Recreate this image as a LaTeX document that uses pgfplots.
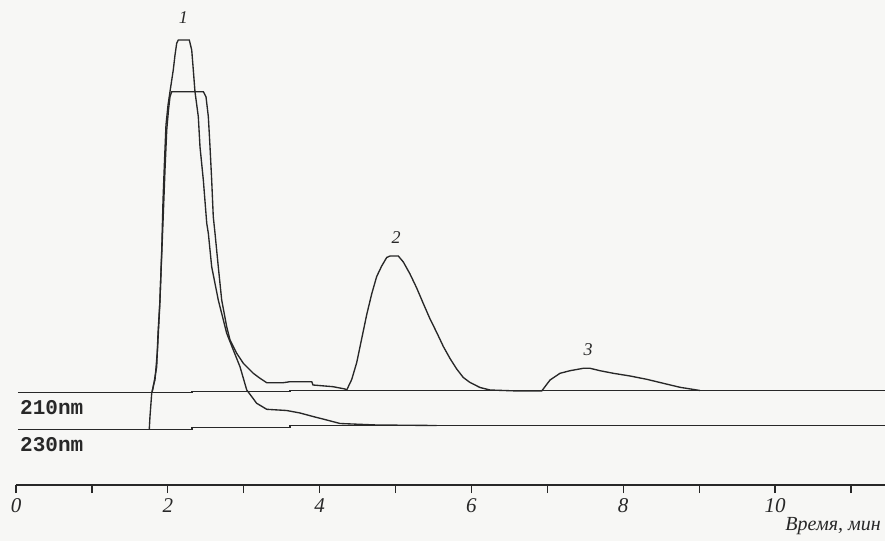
\documentclass[border=0pt]{standalone}
\usepackage{pgfplots}
\pgfplotsset{compat=1.18}
\usepackage{fontspec}
\setmainfont{Liberation Serif}
\setmonofont{Liberation Mono}
\definecolor{bg}{RGB}{247,247,245}
\definecolor{ink}{RGB}{40,40,40}
\begin{document}
\begin{tikzpicture}
\useasboundingbox (0,0) rectangle (885pt,541pt);
\fill[bg] (0,0) rectangle (885pt,541pt);
\begin{axis}[
  at={(16pt,56pt)}, anchor=south west,
  scale only axis, width=869pt, height=485pt,
  xmin=0, xmax=11.449, ymin=0, ymax=485,
  clip=false,
  axis x line=bottom, axis y line=none,
  x axis line style={-, ink, line width=1.4pt},
  xtick={0,1,2,3,4,5,6,7,8,9,10,11},
  xticklabels={\textit{0},,\textit{2},,\textit{4},,\textit{6},,\textit{8},,\textit{10},},
  xtick pos=bottom, tick align=outside,
  major tick length=8pt,
  tick style={ink, line width=1.2pt},
  xticklabel style={font=\fontsize{21}{21}\selectfont, text=ink, anchor=north, yshift=-2pt},
  ytick=\empty,
  tr/.style={ink, line width=1.35pt, mark=none},
]
% baselines
\addplot[tr] coordinates {(0.026,92.5)(2.319,92.5)(2.319,93.5)(3.610,93.5)(3.610,94.5)(11.449,94.5)};
\addplot[tr] coordinates {(0.026,55.5)(2.319,55.5)(2.319,57.5)(3.610,57.5)(3.610,59.5)(11.449,59.5)};
% 230 nm trace
\addplot[tr] coordinates {
(1.756,55.7)(1.765,68.3)(1.788,91.7)(1.809,98.3)(1.854,118.3)(1.871,151.7)(1.897,185)(1.920,235)
(1.937,285)(1.957,325)(1.976,360)(2.003,380)(2.036,397)(2.072,415)(2.095,430)(2.117,441.7)
(2.138,445)(2.283,445)(2.315,435)(2.336,415)(2.358,393.3)(2.402,368.3)(2.424,338.3)(2.468,305)
(2.513,261.7)(2.534,251.7)(2.578,218.3)(2.665,185)(2.776,151.7)(2.863,135)(2.951,118.3)(3.040,95)
(3.171,81.7)(3.303,75.7)(3.566,74.5)(3.742,72)(3.913,68.5)(4.094,65)(4.269,61.5)(4.752,60)(5.543,59.5)};
% 210 nm trace
\addplot[tr] coordinates {
(1.792,92.5)(1.812,100)(1.831,105)(1.864,135)(1.891,175)(1.917,225)(1.943,275)(1.963,315)
(1.986,355)(2.009,375)(2.029,388.3)(2.051,393.3)(2.468,393.3)(2.503,388.3)(2.534,368.3)(2.556,338.3)
(2.578,305)(2.599,268.3)(2.622,251.7)(2.665,218.3)(2.710,185)(2.776,158.3)(2.820,145)(2.908,131.7)
(2.995,121.7)(3.126,111.7)(3.215,106.7)(3.303,102.3)(3.522,102.3)(3.610,103.3)(3.896,103.3)(3.913,100)
(4.177,98.3)(4.335,96)(4.357,95)
(4.423,105.5)(4.489,122.5)(4.555,146.5)(4.621,170.5)(4.686,191)(4.752,208.5)(4.818,219)(4.884,227.5)
(4.928,229)(5.037,229)(5.103,223)(5.191,211)(5.279,197)(5.366,181.5)(5.455,166)(5.543,152.5)
(5.630,138.5)(5.718,126.5)(5.806,116)(5.893,107.5)(5.982,102.5)(6.113,97.5)(6.245,95)(6.614,94)
(6.926,94)
(7.036,105)(7.167,111.7)(7.299,114.3)(7.474,116.7)(7.563,116.7)(7.694,114.3)(7.870,111.7)(8.090,109)
(8.310,105.7)(8.528,101.7)(8.748,97.7)(9.012,94.5)};
% peak numbers
\node[font=\itshape\fontsize{18}{18}\selectfont, text=ink] at (axis cs:2.204,467) {1};
\node[font=\itshape\fontsize{18}{18}\selectfont, text=ink] at (axis cs:5.007,247) {2};
\node[font=\itshape\fontsize{18}{18}\selectfont, text=ink] at (axis cs:7.536,135) {3};
% channel labels
\node[anchor=west, inner sep=0pt, font=\ttfamily\bfseries\fontsize{21}{21}\selectfont, text=ink] at (axis cs:0.053,77) {210nm};
\node[anchor=west, inner sep=0pt, font=\ttfamily\bfseries\fontsize{21}{21}\selectfont, text=ink] at (axis cs:0.053,40) {230nm};
% axis label
\node[anchor=east, inner sep=0pt, font=\itshape\fontsize{20}{20}\selectfont, text=ink] at (axis description cs:0.9954,-0.0845) {Время, мин};
\end{axis}
\end{tikzpicture}
\end{document}
